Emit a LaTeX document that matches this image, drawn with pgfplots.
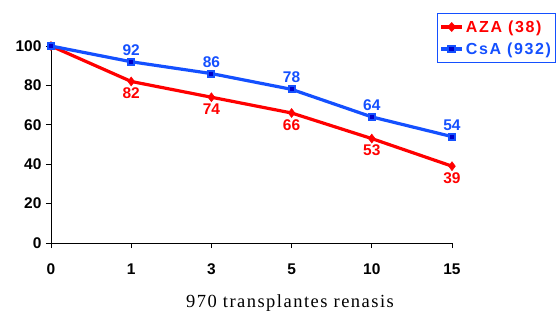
\documentclass[border=0pt]{standalone}
\usepackage{pgfplots}
\pgfplotsset{compat=1.18}
\usepackage{fontspec}
\setmainfont{Liberation Serif}
\newfontfamily\lab{Liberation Sans}[LetterSpace=0]
\newfontfamily\leg{Liberation Sans}[LetterSpace=10]
\newfontfamily\xt{Liberation Serif}[LetterSpace=8]
\definecolor{cred}{RGB}{255,0,0}
\definecolor{cblue}{RGB}{20,80,255}
\definecolor{dblue}{RGB}{0,0,200}
\begin{document}
\begin{tikzpicture}
\path[use as bounding box] (-51pt,-73pt) rectangle (506pt,243pt);
\begin{axis}[
  scale only axis, width=401pt, height=197pt,
  at={(0pt,0pt)}, anchor=origin,
  xmin=0, xmax=5, ymin=0, ymax=100,
  axis lines=left, axis line style={-, black, line width=0.9pt},
  clip=false,
  xtick={0,...,5}, xticklabels={0,1,3,5,10,15},
  ytick={0,20,...,100},
  tick align=outside, major tick length=5pt,
  tick style={black, line width=0.9pt},
  /pgf/number format/assume math mode=true,
  tick label style={font=\fontsize{15.5}{15.5}\lab\bfseries},
  xticklabel style={yshift=-12pt},
  yticklabel style={xshift=-1pt},
  legend style={at={(0.9626,1.1675)}, anchor=north west, draw=cblue, line width=0.9pt,
    font=\fontsize{16}{18}\leg\bfseries, row sep=5pt, inner xsep=2pt, inner ysep=5pt},
  legend image post style={xscale=1.25},
  legend cell align=left,
  nodes near coords, point meta=explicit symbolic,
  every node near coord/.append style={font=\fontsize{15.5}{15.5}\lab\bfseries},
]
\addplot[cred, line width=3.2pt, mark=diamond*, mark size=4.5pt, mark options={solid, line width=0.5pt},
  every node near coord/.append style={anchor=north, text=cred, yshift=-3pt}]
  table[meta=l] {
x y l
0 100 {}
1 82 82
2 74 74
3 66 66
4 53 53
5 39 39
};
\addlegendentry{\textcolor{cred}{AZA (38)}}
\addplot[cblue, line width=3.2pt, mark=square*, mark size=3pt, mark options={solid, draw=cblue, fill=dblue, line width=2pt},
  every node near coord/.append style={anchor=south, text=cblue, yshift=2pt}]
  table[meta=l] {
x y l
0 100 {}
1 92 92
2 86 86
3 78 78
4 64 64
5 54 54
};
\addlegendentry{\textcolor{cblue}{CsA (932)}}
\node[font=\fontsize{18.5}{18.5}\xt] at (axis cs:2.98,-30.5) {970 transplantes renasis};
\end{axis}
\end{tikzpicture}
\end{document}
